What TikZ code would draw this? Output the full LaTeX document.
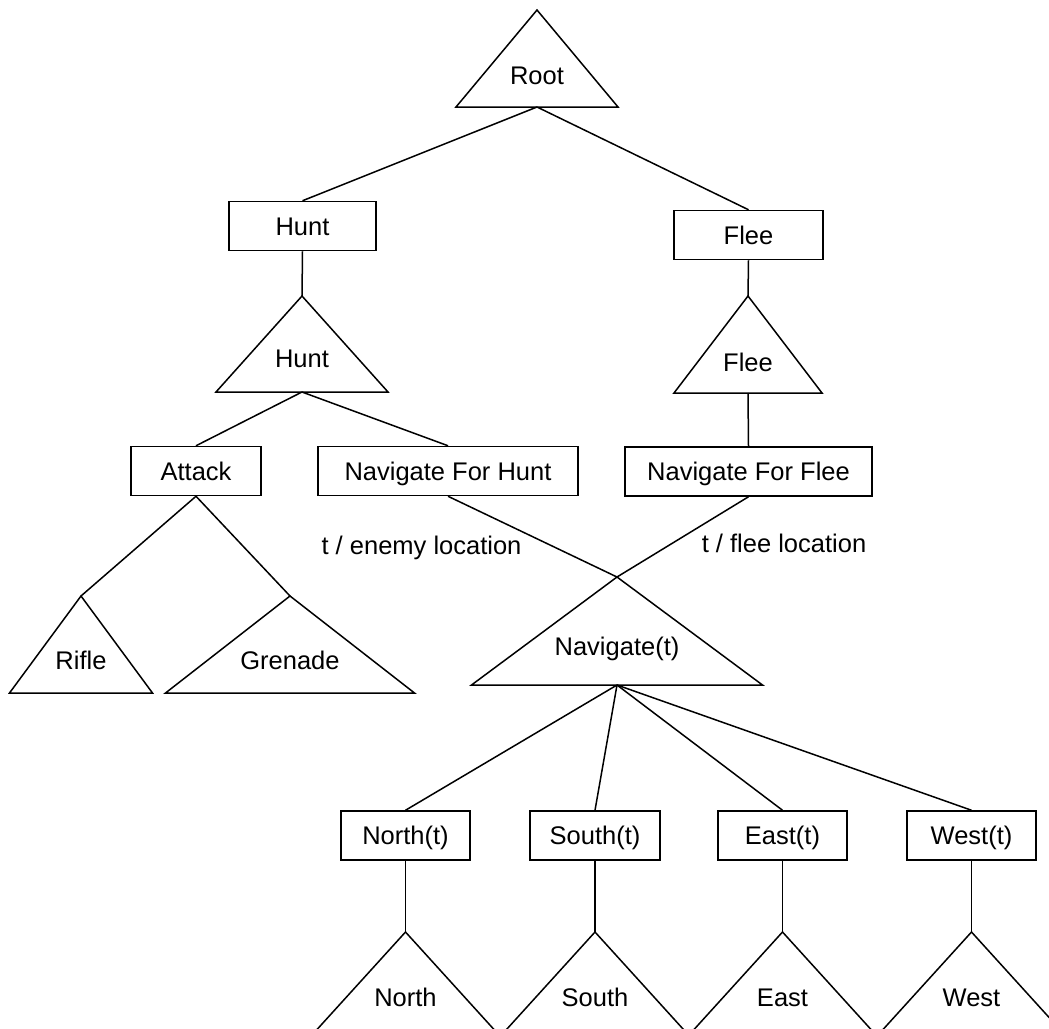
\documentclass[tikz,border=0pt]{standalone}
\usepackage{fontspec}
\setmainfont{Liberation Sans}
\newcommand{\fs}{\fontsize{25.5}{30}\selectfont}
% Triangle subtree: name, apex x, apex y, height, half width, text y, text
\newcommand{\subtree}[7]{%
  \coordinate (#1-top) at (#2,#3);
  \coordinate (#1-bot) at (#2,#3+#4);
  \draw[line join=miter] (#1-top) -- ++(-#5,#4) -- ++(2*#5,0) -- cycle;
  \node[lbl] (#1-text) at (#2,#6) {#7};
}
\begin{document}
\begin{tikzpicture}[x=1pt,y=-1pt,line width=1.5pt,
  lbl/.style={inner sep=0pt,font=\fs,text height=18.3pt,text depth=0pt},
  box/.style={lbl,draw,rectangle,minimum height=49pt},
  link/.style={draw}]
\useasboundingbox (0,0) rectangle (1049,1028);
\clip (0,0) rectangle (1049,1028);

% subtrees drawn as triangles
\subtree{root}{537}{10}{97}{81}{75}{Root}
\subtree{hunttri}{302}{296}{96}{86}{358}{Hunt}
\subtree{fleetri}{748}{296}{97}{74}{362}{Flee}
\subtree{rifle}{81}{596}{97}{71.5}{660}{Rifle}
\subtree{grenade}{290}{596}{97}{124.5}{660}{Grenade}
\subtree{nav}{617}{577}{108}{145.5}{646}{Navigate(t)}
\subtree{north}{405.5}{932}{130}{118}{997}{North}
\subtree{south}{595}{932}{130}{118}{997}{South}
\subtree{east}{782.5}{932}{130}{118}{997}{East}
\subtree{west}{971.5}{932}{130}{118}{997}{West}

% task boxes
\node[box,minimum width=147pt] (hunt) at (302.5,226) {Hunt};
\node[box,minimum width=149pt] (flee) at (748.5,235) {Flee};
\node[box,minimum width=130pt] (attack) at (196,471) {Attack};
\node[box,minimum width=260pt] (navhunt) at (448,471) {Navigate For Hunt};
\node[box,minimum width=247pt] (navflee) at (748.5,471.5) {Navigate For Flee};
\node[box,minimum width=129pt] (northt) at (405.5,835.5) {North(t)};
\node[box,minimum width=130pt] (southt) at (595,835.5) {South(t)};
\node[box,minimum width=129pt] (eastt) at (782.5,835.5) {East(t)};
\node[box,minimum width=129pt] (westt) at (971.5,835.5) {West(t)};

% binding labels
\node[lbl] (enemylbl) at (421.5,545) {t / enemy location};
\node[lbl] (fleelbl) at (784,543) {t / flee location};

% connectors
\draw[link] (root-bot) -- (hunt.north);
\draw[link] (root-bot) -- (flee.north);
\draw[link] (hunt.south) -- (hunttri-top);
\draw[link] (flee.south) -- (fleetri-top);
\draw[link] (hunttri-bot) -- (attack.north);
\draw[link] (hunttri-bot) -- (navhunt.north);
\draw[link] (fleetri-bot) -- (navflee.north);
\draw[link] (attack.south) -- (rifle-top);
\draw[link] (attack.south) -- (grenade-top);
\draw[link] (navhunt.south) -- (nav-top);
\draw[link] (navflee.south) -- (nav-top);
\draw[link] (nav-bot) -- (northt.north);
\draw[link] (nav-bot) -- (southt.north);
\draw[link] (nav-bot) -- (eastt.north);
\draw[link] (nav-bot) -- (westt.north);
\draw[link] (northt.south) -- (north-top);
\draw[link] (southt.south) -- (south-top);
\draw[link] (eastt.south) -- (east-top);
\draw[link] (westt.south) -- (west-top);
\end{tikzpicture}
\end{document}
